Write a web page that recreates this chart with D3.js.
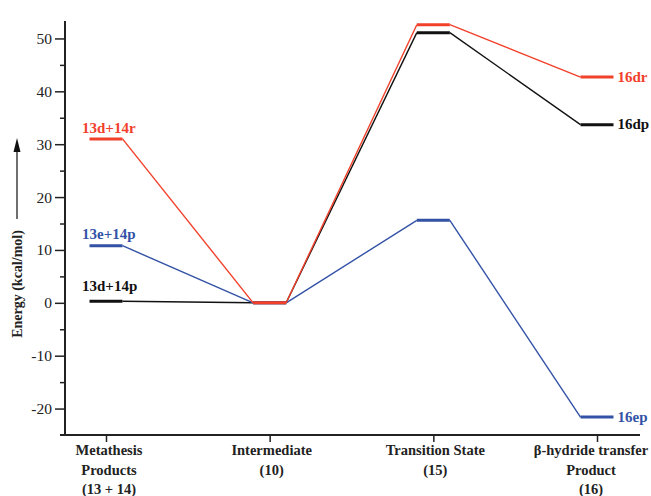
<!DOCTYPE html>
<html>
<head>
<meta charset="utf-8">
<script src="https://cdn.jsdelivr.net/npm/d3@7"></script>
<style>
  body { margin: 0; background: #fff; }
  svg { display: block; }
</style>
</head>
<body>
<svg id="chart" width="651" height="496"></svg>
<script>
// ---- data ----
const categories = ["Metathesis Products (13 + 14)", "Intermediate (10)", "Transition State (15)", "β-hydride transfer Product (16)"];
const categoryLines = [["Metathesis", "Products", "(13 + 14)"], ["Intermediate", "(10)"], ["Transition State", "(15)"], ["β-hydride transfer", "Product", "(16)"]];
const blackValues = [0.3, 0, 51.1, 33.7];
const blueValues  = [10.8, 0, 15.6, -21.6];
const redValues   = [31.0, 0, 52.6, 42.7];
const seriesStartLabels = ["13d+14p", "13e+14p", "13d+14r"];
const seriesEndLabels = ["16dp", "16ep", "16dr"];
const majorTicks = [-20, -10, 0, 10, 20, 30, 40, 50];
const minorTicks = [-15, -5, 5, 15, 25, 35, 45];
const yTitle = "Energy (kcal/mol)";

const series = [
  { values: blackValues, color: "#111111", start: seriesStartLabels[0], end: seriesEndLabels[0], dy: -10 },
  { values: blueValues,  color: "#3352a6", start: seriesStartLabels[1], end: seriesEndLabels[1], dy: -6.5 },
  { values: redValues,   color: "#f2412b", start: seriesStartLabels[2], end: seriesEndLabels[2], dy: -6 }
];

// ---- layout ----
const svg = d3.select("#chart");
const plotLeft = 65, plotBottom = 435, plotTop = 21, plotRight = 640;
const x = d3.scalePoint().domain(categories).range([106, 597]);
const y = d3.scaleLinear().domain([-25, 53.3]).range([plotBottom, plotTop]);
const halfW = 16.5;
const serif = "'Liberation Serif', 'Times New Roman', serif";

// axes lines
svg.append("line").attr("x1", plotLeft).attr("x2", plotLeft).attr("y1", plotTop).attr("y2", plotBottom + 1)
  .attr("stroke", "#222").attr("stroke-width", 2);
svg.append("line").attr("x1", 60).attr("x2", plotRight).attr("y1", plotBottom).attr("y2", plotBottom)
  .attr("stroke", "#222").attr("stroke-width", 2);

// y major ticks
const yAxis = d3.axisLeft(y).tickValues(majorTicks).tickSize(10).tickPadding(3).tickFormat(d => String(d));
const gy = svg.append("g").attr("transform", `translate(${plotLeft},0)`).call(yAxis);
gy.select(".domain").remove();
gy.selectAll(".tick line").attr("stroke", "#222").attr("stroke-width", 1.5);
gy.selectAll(".tick text").attr("font-family", serif).attr("font-size", 15.5).attr("fill", "#222");
// y minor ticks
const yMinor = d3.axisLeft(y).tickValues(minorTicks).tickSize(5).tickFormat("");
const gym = svg.append("g").attr("transform", `translate(${plotLeft},0)`).call(yMinor);
gym.select(".domain").remove();
gym.selectAll(".tick line").attr("stroke", "#222").attr("stroke-width", 1.5);

// x ticks
const xAxis = d3.axisBottom(x).tickSize(7).tickFormat("");
const gx = svg.append("g").attr("transform", `translate(0,${plotBottom})`).call(xAxis);
gx.select(".domain").remove();
gx.selectAll(".tick line").attr("stroke", "#222").attr("stroke-width", 1.5);

// x category labels
categories.forEach((c, i) => {
  const shift = i === categories.length - 1 ? -6 : (i === 0 ? 3 : 2);
  const t = svg.append("text")
    .attr("x", x(c) + shift)
    .attr("y", 455)
    .attr("text-anchor", "middle")
    .attr("font-family", serif)
    .attr("font-weight", "bold")
    .attr("font-size", 14.5)
    .attr("fill", "#222");
  categoryLines[i].forEach((ln, j) => {
    t.append("tspan").attr("x", x(c) + shift).attr("dy", j === 0 ? 0 : 19.5).text(ln);
  });
});

// y title + arrow
svg.append("text")
  .attr("transform", "translate(22,284) rotate(-90)")
  .attr("text-anchor", "middle")
  .attr("font-family", serif)
  .attr("font-weight", "bold")
  .attr("font-size", 14)
  .attr("fill", "#222")
  .text(yTitle);
svg.append("line").attr("x1", 17).attr("x2", 17).attr("y1", 219).attr("y2", 150)
  .attr("stroke", "#222").attr("stroke-width", 1.3);
svg.append("path").attr("d", "M17,138 L13.5,152 L20.5,152 Z").attr("fill", "#111");

// series
series.forEach(s => {
  const g = svg.append("g");
  for (let i = 0; i < categories.length - 1; i++) {
    g.append("line")
      .attr("x1", x(categories[i]) + halfW).attr("y1", y(s.values[i]))
      .attr("x2", x(categories[i + 1]) - halfW).attr("y2", y(s.values[i + 1]))
      .attr("stroke", s.color).attr("stroke-width", 1.4);
  }
  s.values.forEach((v, i) => {
    g.append("line")
      .attr("x1", x(categories[i]) - halfW).attr("x2", x(categories[i]) + halfW)
      .attr("y1", y(v)).attr("y2", y(v))
      .attr("stroke", s.color).attr("stroke-width", 3);
  });
  g.append("text")
    .attr("x", x(categories[0]) - 24)
    .attr("y", y(s.values[0]) + s.dy)
    .attr("font-family", serif).attr("font-weight", "bold").attr("font-size", 15)
    .attr("fill", s.color)
    .text(s.start);
  const last = categories.length - 1;
  g.append("text")
    .attr("x", x(categories[last]) + halfW + 4)
    .attr("y", y(s.values[last]) + 4.5)
    .attr("font-family", serif).attr("font-weight", "bold").attr("font-size", 15)
    .attr("fill", s.color)
    .text(s.end);
});
</script>
</body>
</html>
